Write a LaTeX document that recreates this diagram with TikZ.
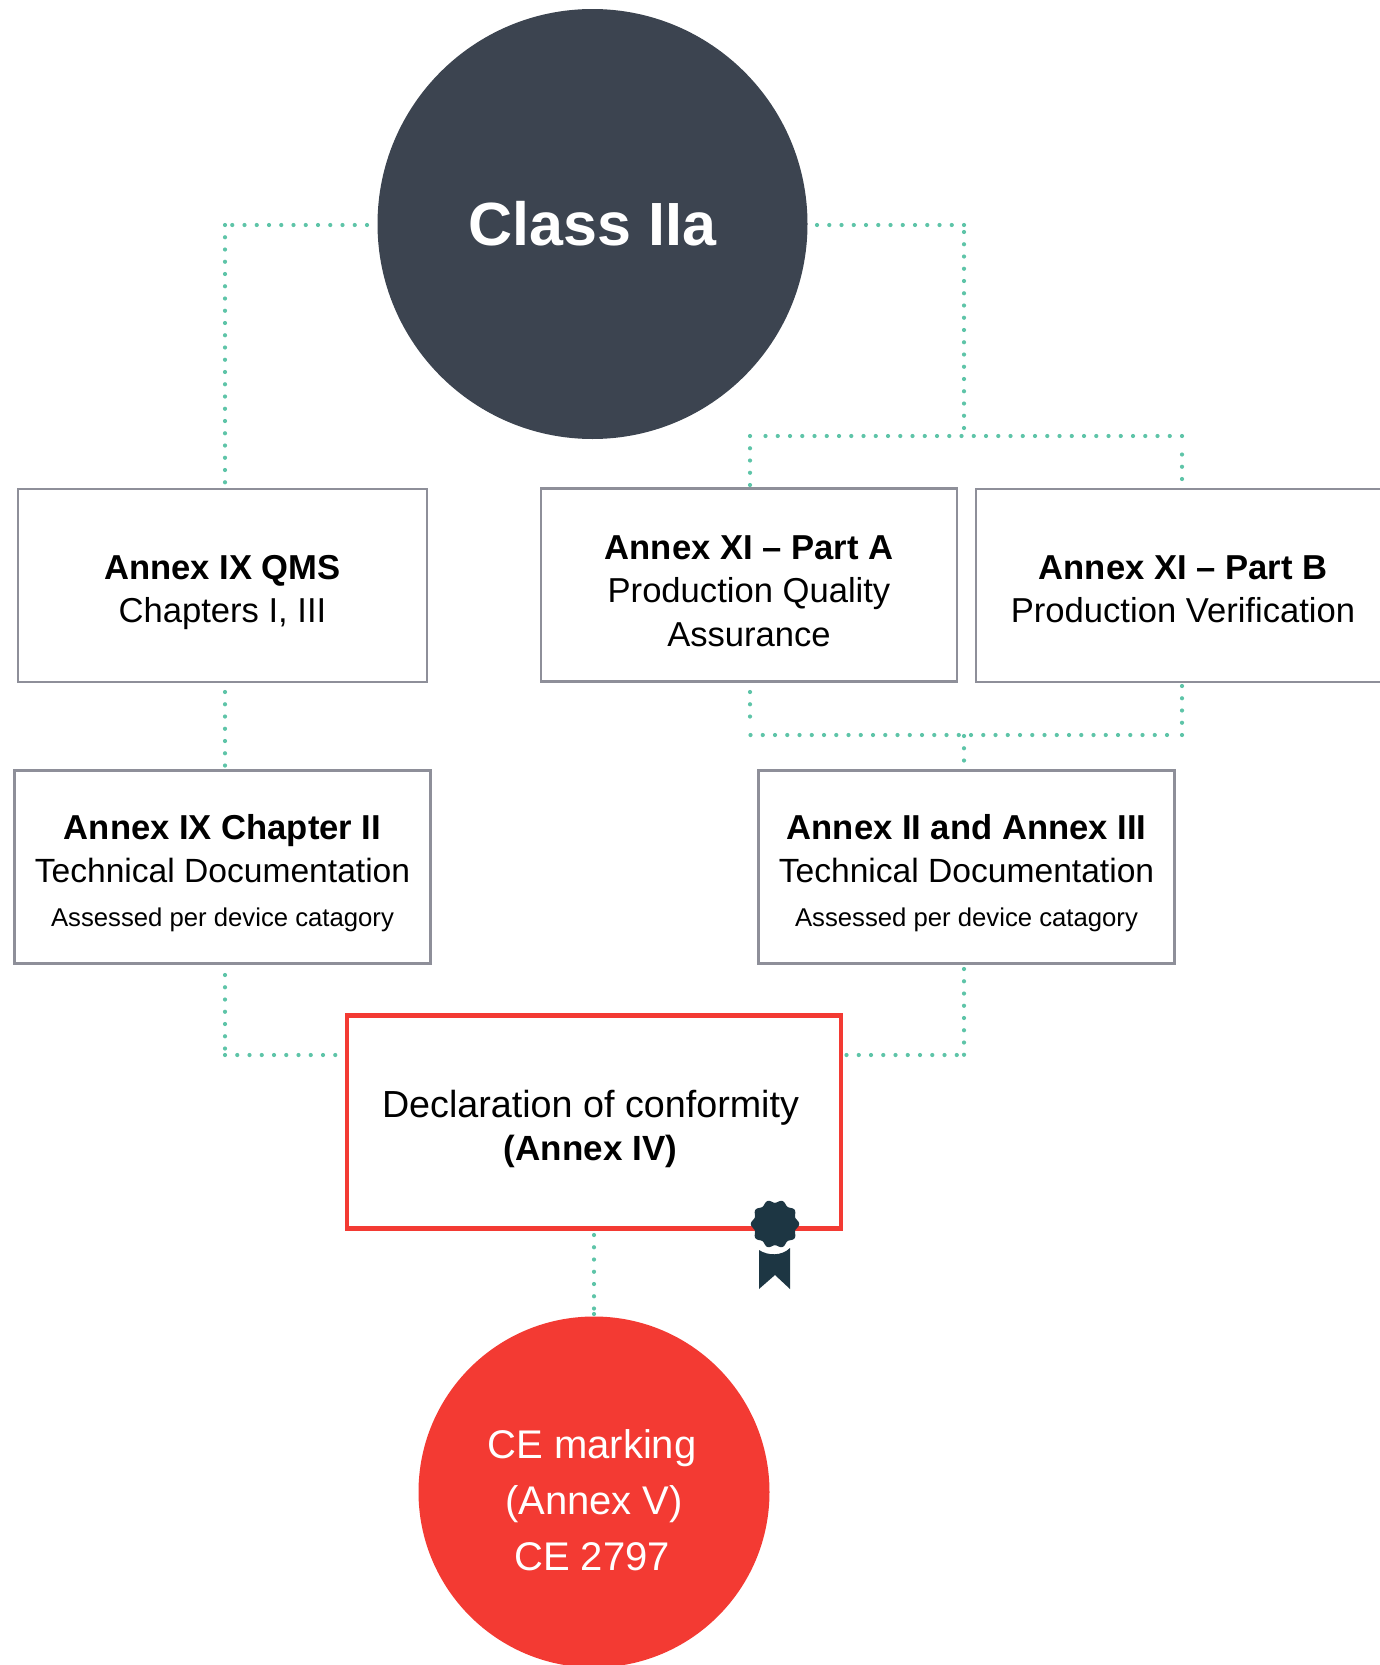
\documentclass[tikz,border=0pt]{standalone}
\usepackage{fontspec}
\setmainfont{Liberation Sans}
\usetikzlibrary{positioning}

\definecolor{darkslate}{HTML}{3C4450}
\definecolor{markred}{HTML}{F33A33}
\definecolor{boxgray}{HTML}{8E8F99}
\definecolor{dotgreen}{HTML}{5EC4A8}
\definecolor{sealblue}{HTML}{1D3643}

\newcommand{\topgap}[1]{\rule{0pt}{#1}}
\newcommand{\techline}{{\fontsize{33.6}{43.5}\selectfont Technical Documentation}}
\newcommand{\smallline}{{\fontsize{25.7}{43.5}\selectfont Assessed per device catagory}}

\begin{document}
\begin{tikzpicture}[
    x=1pt, y=-1pt,
    % Block styles
    annexblock/.style={
        rectangle,
        draw=boxgray,
        line width=2.6pt,
        fill=white,
        minimum height=193pt,
        minimum width=416pt,
        inner sep=0pt,
        align=center,
        font=\fontsize{34.6}{43.5}\selectfont,
        text=black
    },
    redblock/.style={
        rectangle,
        draw=markred,
        line width=4.6pt,
        fill=white,
        minimum height=213pt,
        minimum width=494pt,
        inner sep=0pt,
        align=center,
        font=\fontsize{37.7}{43.5}\selectfont,
        text=black
    },
    classcircle/.style={
        circle,
        fill=darkslate,
        text=white,
        minimum size=430pt,
        inner sep=0pt,
        font=\fontsize{61}{78}\selectfont\bfseries
    },
    markcircle/.style={
        circle,
        fill=markred,
        text=white,
        minimum size=351pt,
        inner sep=0pt,
        align=center,
        font=\fontsize{40}{56}\selectfont
    },
    dotline/.style={
        draw=dotgreen,
        line width=4.2pt,
        line cap=round,
        dash pattern=on 0pt off 12.25pt
    }
]
\useasboundingbox (0,0) rectangle (1379,1665);

% Connections
\coordinate (classleft) at (367,225);
\coordinate (leftspan) at (232,225);
\coordinate (leftcorner) at (225,225);
\coordinate (qmstop) at (225,485);
\coordinate (classright) at (815,225);
\coordinate (rightcorner) at (964,225);
\coordinate (splittop) at (964,428);
\coordinate (partatop) at (750,485);
\coordinate (partacorner) at (750,436);
\coordinate (partaspan) at (765,436);
\coordinate (partbcorner) at (1182,436);
\coordinate (partbtop) at (1182,479);
\coordinate (partbspan) at (1182,454);
\coordinate (partabot) at (750,692);
\coordinate (partaend) at (750,718);
\coordinate (lowerleft) at (750.5,735);
\coordinate (lowerspan) at (1170,735);
\coordinate (partbbot) at (1182,686);
\coordinate (lowerright) at (1182,736);
\coordinate (splitbot) at (964,736);
\coordinate (techtop) at (964,765);
\coordinate (qmsbot) at (225,692);
\coordinate (chaptop) at (225,768);
\coordinate (chapbot) at (225,975);
\coordinate (chapcorner) at (225,1055);
\coordinate (decleft) at (336,1055);
\coordinate (techbot) at (964,969);
\coordinate (techcorner) at (964,1056);
\coordinate (techspan) at (958,1055);
\coordinate (decright) at (846.5,1055);
\coordinate (decbot) at (594,1235);
\coordinate (decend) at (594,1309);
\coordinate (marktop) at (594,1314);
\coordinate (markend) at (594,1312);

\draw[dotline] (classleft) -- (leftspan);
\draw[dotline] (leftcorner) -- (qmstop);
\draw[dotline] (rightcorner) -- (classright);
\draw[dotline] (splittop) -- (rightcorner);
\draw[dotline] (partatop) -- (partacorner);
\draw[dotline] (partbcorner) -- (partaspan);
\draw[dotline] (partbtop) -- (partbspan);
\draw[dotline] (partabot) -- (partaend);
\draw[dotline] (lowerleft) -- (lowerspan);
\draw[dotline] (partbbot) -- (lowerright);
\draw[dotline] (splitbot) -- (techtop);
\draw[dotline] (qmsbot) -- (chaptop);
\draw[dotline] (chapbot) -- (chapcorner);
\draw[dotline] (chapcorner) -- (decleft);
\draw[dotline] (techbot) -- (techcorner);
\draw[dotline] (decright) -- (techspan);
\draw[dotline] (decbot) -- (decend);
\draw[dotline] (marktop) -- (markend);

% Circles
\node[classcircle] (classiia) at (592.5,224) {Class IIa};
\node[markcircle] (cemark) at (594,1492) {\topgap{45pt}CE marking\hspace*{4pt}\\(Annex V)\hspace*{4pt}\\CE 2797\hspace*{4pt}};

% Annex boxes
\node[annexblock, minimum width=409pt] (qms) at (222.5,585.5) {\topgap{38pt}\textbf{Annex IX QMS}\\Chapters I, III};
\node[annexblock] (parta) at (749,585) {\topgap{35.6pt}\textbf{Annex XI -- Part A}\\Production Quality\\Assurance};
\node[annexblock, minimum width=414pt] (partb) at (1183,585.5) {\topgap{31.4pt}\textbf{Annex XI -- Part B}\\Production Verification};
\node[annexblock] (chapter) at (222.5,867) {\topgap{36.6pt}\textbf{Annex IX Chapter II}\\\techline\\\smallline};
\node[annexblock] (techdoc) at (966.5,867) {\topgap{36.6pt}\textbf{Annex II and Annex III}\\\techline\\\smallline};

% Declaration
\node[redblock] (declaration) at (594,1122) {\topgap{41.5pt}Declaration of conformity\hspace*{7pt}\\{\fontsize{35}{43.5}\selectfont\textbf{(Annex IV)}}\hspace*{7pt}};

% Seal
\fill[sealblue] (759,1250) .. controls (768,1256) and (782,1256) .. (790,1248) -- (790,1289) -- (775,1275) -- (759,1289) -- cycle;
\fill[sealblue] plot[domain=0:360, samples=120, smooth] ({775+22.7*cos(\x)+1.5*cos(10*\x)*cos(\x)}, {1224+22.7*sin(\x)+1.5*cos(10*\x)*sin(\x)}) -- cycle;

\end{tikzpicture}
\end{document}
